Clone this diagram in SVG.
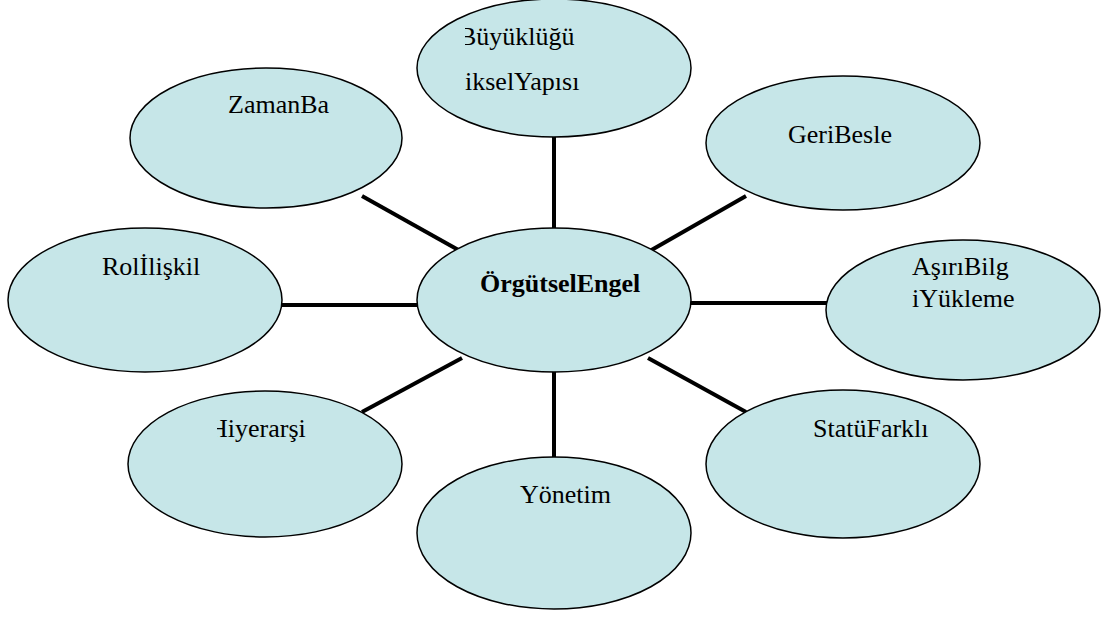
<svg xmlns="http://www.w3.org/2000/svg" width="1107" height="617" viewBox="0 0 1107 617">
<style>
.n{fill:#c6e6e8;stroke:#000;stroke-width:1.5}
.t{font-family:'Liberation Serif','Times New Roman','DejaVu Serif',serif;font-size:26px;fill:#000}
.b{font-weight:bold}
.c{stroke:#000;stroke-width:4;fill:none}
</style>
<defs>
<clipPath id="clipTop"><rect x="465" y="0" width="200" height="130"/></clipPath>
<clipPath id="clipHi"><rect x="217" y="400" width="150" height="60"/></clipPath>
</defs>
<rect width="1107" height="617" fill="#fff"/>
<g id="connectors">
<line class="c" x1="554" y1="130" x2="554" y2="235"/>
<line class="c" x1="362" y1="196" x2="462" y2="252"/>
<line class="c" x1="746" y1="196" x2="648" y2="252"/>
<line class="c" x1="275" y1="305" x2="425" y2="305"/>
<line class="c" x1="685" y1="303" x2="835" y2="303"/>
<line class="c" x1="462" y1="358" x2="362" y2="412"/>
<line class="c" x1="648" y1="358" x2="746" y2="412"/>
<line class="c" x1="554" y1="365" x2="554" y2="465"/>
</g>
<g id="node-top">
<ellipse class="n" cx="554" cy="68" rx="137" ry="69"/>
<g clip-path="url(#clipTop)">
<text class="t" x="459" y="45" font-family="Liberation Serif, serif">Büyüklüğü</text>
</g>
<text class="t" x="465" y="90" font-family="Liberation Serif, serif">ikselYapısı</text>
</g>
<g id="node-zaman">
<ellipse class="n" cx="266" cy="138" rx="136" ry="70"/>
<text class="t" x="228" y="113" font-family="Liberation Serif, serif">ZamanBa</text>
</g>
<g id="node-geri">
<ellipse class="n" cx="843" cy="143" rx="137" ry="67"/>
<text class="t" x="788" y="143" font-family="Liberation Serif, serif">GeriBesle</text>
</g>
<g id="node-rol">
<ellipse class="n" cx="145" cy="300" rx="137" ry="72"/>
<text class="t" x="102" y="275" font-family="Liberation Serif, serif">Rolİlişkil</text>
</g>
<g id="node-center">
<ellipse class="n" cx="554" cy="300" rx="137" ry="72"/>
<text class="t b" x="480" y="292" font-family="Liberation Serif, serif">ÖrgütselEngel</text>
</g>
<g id="node-asiri">
<ellipse class="n" cx="963" cy="310" rx="137" ry="70"/>
<text class="t" x="912" y="275" font-family="Liberation Serif, serif">AşırıBilg</text>
<text class="t" x="912" y="307" font-family="Liberation Serif, serif">iYükleme</text>
</g>
<g id="node-hiyerarsi">
<ellipse class="n" cx="265" cy="464" rx="137" ry="73"/>
<g clip-path="url(#clipHi)">
<text class="t" x="209" y="437" font-family="Liberation Serif, serif">Hiyerarşi</text>
</g>
</g>
<g id="node-statu">
<ellipse class="n" cx="843" cy="464" rx="137" ry="74"/>
<text class="t" x="813" y="437" font-family="Liberation Serif, serif">StatüFarklı</text>
</g>
<g id="node-yonetim">
<ellipse class="n" cx="554" cy="533" rx="137" ry="76"/>
<text class="t" x="520" y="503" font-family="Liberation Serif, serif">Yönetim</text>
</g>
</svg>
